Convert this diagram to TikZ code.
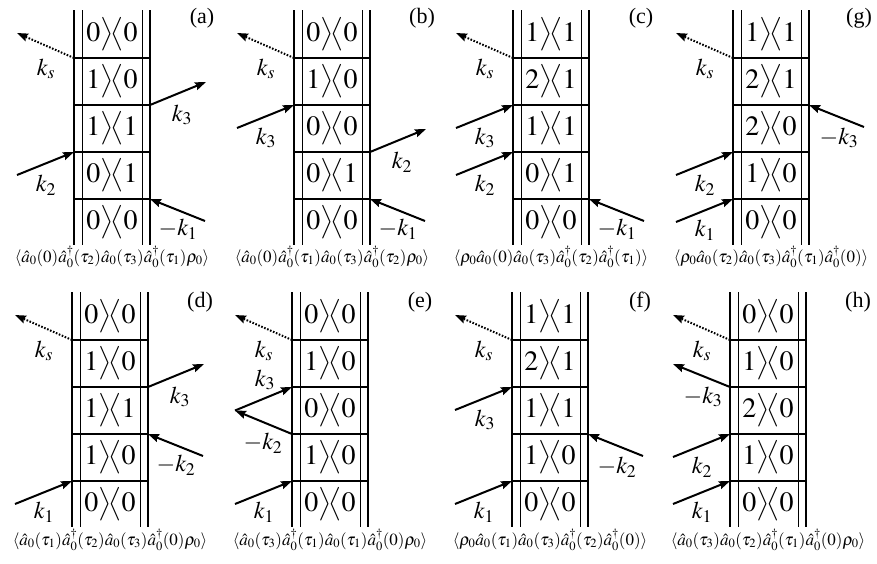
\documentclass[tikz,border=0pt]{standalone}
\usepackage{amsmath}
\usepackage{mathptmx}
\usepackage{fontspec}
\setmainfont{Liberation Serif}
\usetikzlibrary{arrows.meta}

\newcommand{\kb}[2]{$#1\big\rangle\!\big\langle#2$}
\newcommand{\ladder}[1]{%
  \draw[rail] (-38,0) -- (-38,-235) (38,0) -- (38,-235);
  \draw[inrail] (-30,0) -- (-30,-235) (30,0) -- (30,-235);
  \foreach \k in {1,...,4}
    \draw[rung] (-38,-1-47*\k) coordinate (L\k) -- (38,-1-47*\k) coordinate (R\k);
  \foreach \s [count=\i] in {#1}
    \node[cell] (c\i) at (0,23-47*\i) {\expandafter\kb\s};
}

\begin{document}
\begin{tikzpicture}
[x=1pt,y=1pt,
 rail/.style={line width=1.8pt},
 inrail/.style={line width=0.9pt},
 rung/.style={line width=1.8pt},
 cell/.style={font=\fontsize{28}{34}\selectfont,inner sep=0pt},
 beam/.style={line width=2pt,-{Stealth[length=11pt,width=8pt,inset=1.5pt]}},
 sig/.style={beam,dash pattern=on 1.6pt off 1.6pt},
 klab/.style={font=\fontsize{24}{28}\selectfont,inner sep=0pt},
 tag/.style={font=\fontsize{22}{26}\selectfont,inner sep=0pt},
 corr/.style={font=\fontsize{17}{20}\selectfont,inner sep=0pt}]
\useasboundingbox (0,0) rectangle (877,-563);

% (a)
\begin{scope}[shift={(112,-10)},name prefix=a-]
\ladder{00,10,11,01,00}
\node[tag] (tag) at (90,-8) {(a)};
\path (L1) ++(-57,25) coordinate (kse) (L1) ++(-28,-11) node[klab] (ksl) {$k_s$};
\draw[sig] (L1) -- (kse);
\path (R2) ++(56,23) coordinate (k3e) (R2) ++(32,-10) node[klab] (k3l) {$k_3$};
\draw[beam] (R2) -- (k3e);
\path (L3) ++(-57,-23) coordinate (k2s) (L3) ++(-28,-33) node[klab] (k2l) {$k_2$};
\draw[beam] (k2s) -- (L3);
\path (R4) ++(55,-22) coordinate (k1s) (R4) ++(28,-30) node[klab] (k1l) {$-k_1$};
\draw[beam] (k1s) -- (R4);
\node[corr] (cap) at (0,-247)
  {$\langle\hat a_0(0)\hat a_0^\dagger(\tau_2)\hat a_0(\tau_3)\hat a_0^\dagger(\tau_1)\rho_0\rangle$};
\end{scope}

% (b)
\begin{scope}[shift={(332,-10)},name prefix=b-]
\ladder{00,10,00,01,00}
\node[tag] (tag) at (90,-8) {(b)};
\path (L1) ++(-57,25) coordinate (kse) (L1) ++(-28,-11) node[klab] (ksl) {$k_s$};
\draw[sig] (L1) -- (kse);
\path (L2) ++(-57,-23) coordinate (k3s) (L2) ++(-28,-33) node[klab] (k3l) {$k_3$};
\draw[beam] (k3s) -- (L2);
\path (R3) ++(56,23) coordinate (k2e) (R3) ++(32,-10) node[klab] (k2l) {$k_2$};
\draw[beam] (R3) -- (k2e);
\path (R4) ++(55,-22) coordinate (k1s) (R4) ++(28,-30) node[klab] (k1l) {$-k_1$};
\draw[beam] (k1s) -- (R4);
\node[corr] (cap) at (0,-247)
  {$\langle\hat a_0(0)\hat a_0^\dagger(\tau_1)\hat a_0(\tau_3)\hat a_0^\dagger(\tau_2)\rho_0\rangle$};
\end{scope}

% (c)
\begin{scope}[shift={(551,-10)},name prefix=c-]
\ladder{11,21,11,01,00}
\node[tag] (tag) at (90,-8) {(c)};
\path (L1) ++(-57,25) coordinate (kse) (L1) ++(-28,-11) node[klab] (ksl) {$k_s$};
\draw[sig] (L1) -- (kse);
\path (L2) ++(-57,-23) coordinate (k3s) (L2) ++(-28,-33) node[klab] (k3l) {$k_3$};
\draw[beam] (k3s) -- (L2);
\path (L3) ++(-57,-23) coordinate (k2s) (L3) ++(-28,-33) node[klab] (k2l) {$k_2$};
\draw[beam] (k2s) -- (L3);
\path (R4) ++(55,-22) coordinate (k1s) (R4) ++(28,-30) node[klab] (k1l) {$-k_1$};
\draw[beam] (k1s) -- (R4);
\node[corr] (cap) at (0,-247)
  {$\langle\rho_0\hat a_0(0)\hat a_0(\tau_3)\hat a_0^\dagger(\tau_2)\hat a_0^\dagger(\tau_1)\rangle$};
\end{scope}

% (g)
\begin{scope}[shift={(771,-10)},name prefix=g-]
\ladder{11,21,20,10,00}
\node[tag] (tag) at (88,-8) {(g)};
\path (L1) ++(-57,25) coordinate (kse) (L1) ++(-28,-11) node[klab] (ksl) {$k_s$};
\draw[sig] (L1) -- (kse);
\path (R2) ++(55,-22) coordinate (k3s) (R2) ++(30,-33) node[klab] (k3l) {$-k_3$};
\draw[beam] (k3s) -- (R2);
\path (L3) ++(-57,-23) coordinate (k2s) (L3) ++(-28,-33) node[klab] (k2l) {$k_2$};
\draw[beam] (k2s) -- (L3);
\path (L4) ++(-57,-23) coordinate (k1s) (L4) ++(-28,-31) node[klab] (k1l) {$k_1$};
\draw[beam] (k1s) -- (L4);
\node[corr] (cap) at (0,-247)
  {$\langle\rho_0\hat a_0(\tau_2)\hat a_0(\tau_3)\hat a_0^\dagger(\tau_1)\hat a_0^\dagger(0)\rangle$};
\end{scope}

% (d)
\begin{scope}[shift={(110,-292)},name prefix=d-]
\ladder{00,10,11,10,00}
\node[tag] (tag) at (90,-10) {(d)};
\path (L1) ++(-57,25) coordinate (kse) (L1) ++(-28,-11) node[klab] (ksl) {$k_s$};
\draw[sig] (L1) -- (kse);
\path (R2) ++(56,23) coordinate (k3e) (R2) ++(32,-10) node[klab] (k3l) {$k_3$};
\draw[beam] (R2) -- (k3e);
\path (R3) ++(55,-22) coordinate (k2s) (R3) ++(28,-31) node[klab] (k2l) {$-k_2$};
\draw[beam] (k2s) -- (R3);
\path (L4) ++(-57,-23) coordinate (k1s) (L4) ++(-28,-31) node[klab] (k1l) {$k_1$};
\draw[beam] (k1s) -- (L4);
\node[corr] (cap) at (0,-248)
  {$\langle\hat a_0(\tau_1)\hat a_0^\dagger(\tau_2)\hat a_0(\tau_3)\hat a_0^\dagger(0)\rho_0\rangle$};
\end{scope}

% (e)
\begin{scope}[shift={(330,-292)},name prefix=e-]
\ladder{00,10,00,10,00}
\node[tag] (tag) at (90,-10) {(e)};
\path (L1) ++(-57,25) coordinate (kse) (L1) ++(-28,-11) node[klab] (ksl) {$k_s$};
\draw[sig] (L1) -- (kse);
\path (L3) ++(-57,23.5) coordinate (turn);
\path (L2) ++(-27,7) node[klab] (k3l) {$k_3$};
\draw[beam] (turn) -- (L2);
\path (L3) ++(-29,-9) node[klab] (k2l) {$-k_2$};
\draw[beam] (L3) -- (turn);
\path (L4) ++(-57,-23) coordinate (k1s) (L4) ++(-28,-31) node[klab] (k1l) {$k_1$};
\draw[beam] (k1s) -- (L4);
\node[corr] (cap) at (0,-248)
  {$\langle\hat a_0(\tau_3)\hat a_0^\dagger(\tau_1)\hat a_0(\tau_1)\hat a_0^\dagger(0)\rho_0\rangle$};
\end{scope}

% (f)
\begin{scope}[shift={(550,-292)},name prefix=f-]
\ladder{11,21,11,10,00}
\node[tag] (tag) at (90,-10) {(f)};
\path (L1) ++(-57,25) coordinate (kse) (L1) ++(-28,-11) node[klab] (ksl) {$k_s$};
\draw[sig] (L1) -- (kse);
\path (L2) ++(-57,-23) coordinate (k3s) (L2) ++(-27,-33) node[klab] (k3l) {$k_3$};
\draw[beam] (k3s) -- (L2);
\path (R3) ++(55,-22) coordinate (k2s) (R3) ++(29,-33) node[klab] (k2l) {$-k_2$};
\draw[beam] (k2s) -- (R3);
\path (L4) ++(-57,-23) coordinate (k1s) (L4) ++(-28,-31) node[klab] (k1l) {$k_1$};
\draw[beam] (k1s) -- (L4);
\node[corr] (cap) at (0,-248)
  {$\langle\rho_0\hat a_0(\tau_1)\hat a_0(\tau_3)\hat a_0^\dagger(\tau_2)\hat a_0^\dagger(0)\rangle$};
\end{scope}

% (h)
\begin{scope}[shift={(768,-292)},name prefix=h-]
\ladder{00,10,20,10,00}
\node[tag] (tag) at (90,-10) {(h)};
\path (L1) ++(-57,25) coordinate (kse) (L1) ++(-28,-11) node[klab] (ksl) {$k_s$};
\draw[sig] (L1) -- (kse);
\path (L2) ++(-57,23) coordinate (k3e) (L2) ++(-27,-10) node[klab] (k3l) {$-k_3$};
\draw[beam] (L2) -- (k3e);
\path (L3) ++(-57,-23) coordinate (k2s) (L3) ++(-28,-33) node[klab] (k2l) {$k_2$};
\draw[beam] (k2s) -- (L3);
\path (L4) ++(-57,-23) coordinate (k1s) (L4) ++(-28,-31) node[klab] (k1l) {$k_1$};
\draw[beam] (k1s) -- (L4);
\node[corr] (cap) at (0,-248)
  {$\langle\hat a_0(\tau_3)\hat a_0(\tau_2)\hat a_0^\dagger(\tau_1)\hat a_0^\dagger(0)\rho_0\rangle$};
\end{scope}
\end{tikzpicture}
\end{document}
